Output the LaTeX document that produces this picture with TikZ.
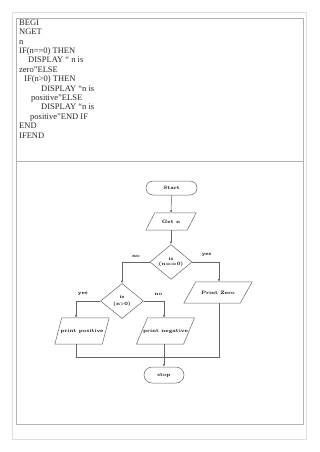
\documentclass[tikz,border=0pt]{standalone}
\usepackage{fontspec}
\newfontfamily\codefont{Liberation Serif}
\newcommand\chartfont{\fontsize{4.8}{5.8}\selectfont\bfseries}
\usetikzlibrary{shapes.geometric,arrows.meta}
\tikzset{
  frameline/.style={draw=gray!25, line width=1pt},
  boxline/.style={draw=gray!60, line width=0.9pt},
  codeline/.style={anchor=base west, inner sep=0pt, text=black!85, font=\codefont\fontsize{8.5}{9}\selectfont},
  termbox/.style={draw=black!60, line width=0.5pt, rounded corners=7pt, inner sep=1pt, font=\chartfont},
  iobox/.style={inner sep=1pt, font=\chartfont},
  ioline/.style={draw=black!60, line width=0.5pt},
  decbox/.style={diamond, draw=black!60, line width=0.5pt, inner sep=0pt, align=center, font=\chartfont},
  flow/.style={draw=black!60, line width=0.5pt, -{Latex[length=2.6pt,width=2.2pt]}},
  link/.style={draw=black!60, line width=0.5pt},
  lbl/.style={inner sep=0pt, font=\chartfont}
}
\begin{document}
\begin{tikzpicture}[x=1pt, y=-1pt]
\useasboundingbox (0,0) rectangle (320,452);
% frames
\draw[frameline] (12,12.5) rectangle (306.5,439);
\draw[boxline] (16,18) rectangle (303,424);
\draw[boxline] (16,161) -- (303,161);
% pseudo code
\foreach \i/\x/\t in {1/19/{BEGI}, 2/19/{NGET}, 3/19/{n}, 4/19/{IF(n==0) THEN}, 5/28/{DISPLAY “ n is}, 6/19/{zero”ELSE}, 7/24/{IF(n>0) THEN}, 8/41/{DISPLAY “n is}, 9/31/{positive”ELSE}, 10/41/{DISPLAY “n is}, 11/30/{positive”END IF}, 12/19/{END}, 13/19/{IFEND}}
  \node[codeline] (code\i) at (\x, 15.9+9.4*\i) {\t};
% flowchart
\node[termbox, minimum width=51pt, minimum height=14pt] (start) at (171.5,188) {Start};
\node[iobox, minimum width=41pt, minimum height=17pt] (getn) at (171,221.5) {Get n};
\node[decbox, minimum width=42pt, minimum height=28pt] (dec1) at (171,262) {is\\(n==0)};
\node[iobox, minimum width=56pt, minimum height=21pt] (pzero) at (218,292.5) {Print Zero};
\node[decbox, minimum width=43pt, minimum height=35pt] (dec2) at (122,301) {is\\[1.5pt](n>0)};
\node[iobox, minimum width=47pt, minimum height=26pt] (ppos) at (82,331) {print positive};
\node[iobox, minimum width=46pt, minimum height=26pt] (pneg) at (165.5,331) {print negative};
\node[termbox, minimum width=40pt, minimum height=16pt, rounded corners=8pt] (stop) at (164,375) {stop};
\coordinate (join) at (164,357);
% parallelogram outlines
\foreach \n/\s in {getn/4.5, pzero/6, ppos/3.5, pneg/5.5}
  \draw[ioline] ([xshift=\s pt]\n.north west) -- ([xshift=\s pt]\n.north east) -- ([xshift=-\s pt]\n.south east) -- ([xshift=-\s pt]\n.south west) -- cycle;
% connectors
\draw[flow] (start) -- (getn);
\draw[flow] (getn) -- (dec1);
\draw[flow] (dec1.west) -| (dec2.north) node[lbl, pos=0.25, above=4pt] (no1) {no};
\draw[flow] (dec1.east) -| ([xshift=1pt]pzero.north) node[lbl, pos=0.27, above=5pt] (yes1) {yes};
\draw[flow] (dec2.west) -| ([xshift=-6pt]ppos.north) node[lbl, pos=0.36, above=5pt] (yes2) {yes};
\draw[flow] (dec2.east) -| ([xshift=-1.5pt]pneg.north) node[lbl, pos=0.36, above=5pt] (no2) {no};
\draw[link] ([xshift=-6pt]ppos.south) |- (join);
\draw[link] ([xshift=1pt]pzero.south) |- (join);
\draw[flow] ([xshift=-1.5pt]pneg.south) -- (stop.north);
\end{tikzpicture}
\end{document}
